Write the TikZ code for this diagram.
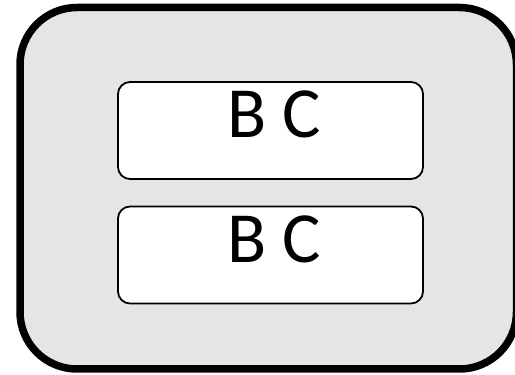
\documentclass[tikz,border=0pt]{standalone}
\usepackage{fontspec}
\setmainfont{Carlito}
\definecolor{outerfill}{RGB}{229,229,229}
\begin{document}
\begin{tikzpicture}[x=1pt,y=1pt,
  outerbox/.style={draw=black, line width=7.5pt, fill=outerfill, rounded corners=57pt},
  innerbox/.style={draw=black, line width=1.8pt, fill=white, rounded corners=12pt,
    minimum width=305pt, minimum height=97pt, inner sep=0pt},
  lbl/.style={anchor=base, font=\fontsize{72}{80}\selectfont, inner sep=0pt}]
\useasboundingbox (0,0) rectangle (515,375);
\clip (0,0) rectangle (515,375);
\draw[outerbox] (20,367.5) rectangle (516.5,6);
\node[innerbox] (b1) at (270.5,244.5) {};
\node[innerbox] (b2) at (270.5,120) {};
\node[lbl] (t1) at (274,237.5) {B C};
\node[lbl] (t2) at (274,112.5) {B C};
\end{tikzpicture}
\end{document}
